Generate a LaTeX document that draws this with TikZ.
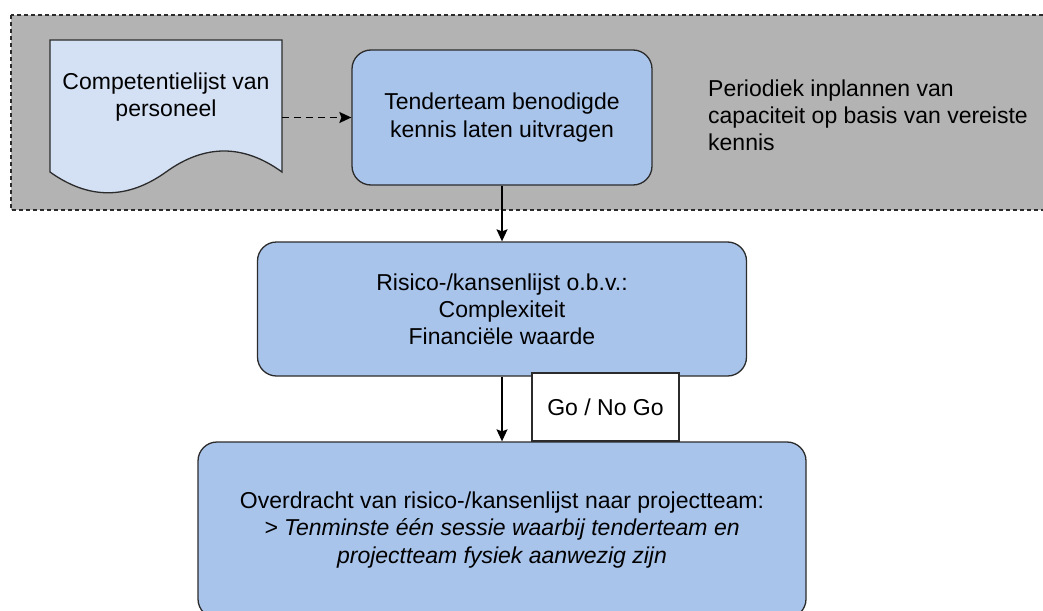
\documentclass[tikz,border=0pt]{standalone}
\usepackage{fontspec}
\setmainfont{Liberation Sans}
\usetikzlibrary{arrows.meta}
\definecolor{zonegray}{HTML}{B3B3B3}
\definecolor{docblue}{HTML}{D4E1F5}
\definecolor{stepblue}{HTML}{A9C4EB}
\definecolor{edge}{HTML}{2B2B2B}
\begin{document}
\begin{tikzpicture}[x=1pt,y=-1pt,
  every node/.style={font=\fontsize{23}{27.2}\selectfont, text=black},
  stepbox/.style={draw=edge, line width=1.3pt, fill=stepblue, rounded corners=19pt, align=center},
  plain/.style={align=center, inner sep=0pt},
  flow/.style={draw=black, line width=1.4pt, -{Stealth[length=12pt,width=11pt,inset=2pt]}},
]
\useasboundingbox (0,0) rectangle (1043,610);
\clip (0,0) rectangle (1043,610);

% planning zone
\draw[fill=zonegray, draw=edge, line width=1.3pt, dash pattern=on 4pt off 3pt]
  (11,15) rectangle (1060,210);

% competence list (document shape)
\draw[fill=docblue, draw=edge, line width=1.3pt]
  (50,40) -- (282,40) -- (282,172)
  .. controls (243.3,144) and (204.7,144) .. (166,172)
  .. controls (127.3,199.7) and (88.7,199.7) .. (50,172) -- cycle;
\node (doc) [minimum width=232pt, minimum height=155pt, inner sep=0pt] at (166,117.5) {};
\node (doctext) [plain] at (166,97) {Competentielijst van\\personeel};

% process steps
\node (tender) [stepbox, minimum width=300pt, minimum height=135pt] at (502,117.5)
  {Tenderteam benodigde\\kennis laten uitvragen};
\node (risk) [stepbox, minimum width=489pt, minimum height=134pt] at (502,309)
  {Risico-/kansenlijst o.b.v.:\\Complexiteit\\Financiële waarde};
\node (handover) [stepbox, minimum width=608pt, minimum height=176pt] at (502,530)
  {Overdracht van risico-/kansenlijst naar projectteam:\\
   \itshape > Tenminste één sessie waarbij tenderteam en\\
   \itshape projectteam fysiek aanwezig zijn};

\node (note) [anchor=west, align=left, inner sep=0pt] at (708,115)
  {Periodiek inplannen van\\capaciteit op basis van vereiste\\kennis};

% decision label
\node (gonogo) [draw=edge, line width=1.3pt, fill=white, minimum width=147pt, minimum height=68pt]
  at (605.5,407) {Go / No Go};

% connectors
\draw[flow, dash pattern=on 7pt off 5pt] (doc.east) -- (tender.west);
\draw[flow] (tender.south) -- (risk.north);
\draw[flow] (risk.south) -- (handover.north);
\end{tikzpicture}
\end{document}
